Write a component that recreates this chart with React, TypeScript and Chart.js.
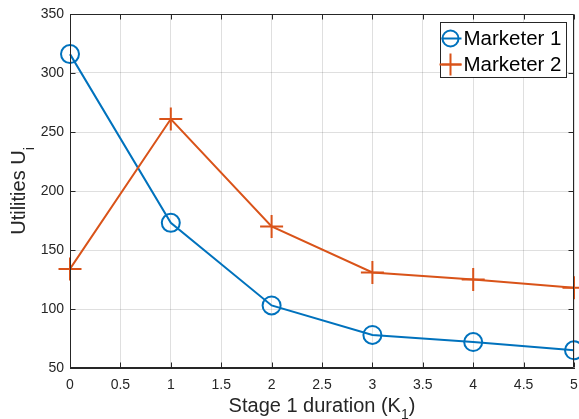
import { useEffect, useRef } from "react";
import { Chart, registerables } from "chart.js";

Chart.register(...registerables);

const stageDurations = [0, 1, 2, 3, 4, 5];
const marketer1 = [316, 173, 103, 78, 72, 65];
const marketer2 = [134, 261, 170, 131, 125, 118];
const seriesLabels = ["Marketer 1", "Marketer 2"];
const xTickValues = [0, 0.5, 1, 1.5, 2, 2.5, 3, 3.5, 4, 4.5, 5];
const yTickValues = [50, 100, 150, 200, 250, 300, 350];
const xTitleParts = ["Stage 1 duration (K", "1", ")"];
const yTitleParts = ["Utilities U", "i", ""];

const BLUE = "#0072BD";
const ORANGE = "#D95319";
const AXIS = "#262626";
const GRID = "rgba(38,38,38,0.15)";
const FAMILY = "'Liberation Sans', Arial, Helvetica, sans-serif";

function drawSubTitle(ctx: CanvasRenderingContext2D, parts: string[], size: number, subSize: number, subOffset: number) {
  ctx.font = `${size}px ${FAMILY}`;
  const w0 = ctx.measureText(parts[0]).width;
  const w2 = ctx.measureText(parts[2]).width;
  ctx.font = `${subSize}px ${FAMILY}`;
  const w1 = ctx.measureText(parts[1]).width;
  const total = w0 + w1 + w2;
  let x = -total / 2;
  ctx.textAlign = "left";
  ctx.textBaseline = "alphabetic";
  ctx.font = `${size}px ${FAMILY}`;
  ctx.fillText(parts[0], x, 0);
  x += w0;
  ctx.font = `${subSize}px ${FAMILY}`;
  ctx.fillText(parts[1], x, subOffset);
  x += w1;
  ctx.font = `${size}px ${FAMILY}`;
  if (parts[2]) ctx.fillText(parts[2], x, 0);
}

const framePlugin = {
  id: "matlabFrame",
  afterDraw(chart: any) {
    const { ctx, chartArea: a, scales } = chart;
    const L = Math.round(a.left) + 0.5;
    const R = Math.round(a.right) - 0.5;
    const T = Math.round(a.top) + 0.5;
    const B = Math.round(a.bottom) - 0.5;
    ctx.save();
    ctx.strokeStyle = AXIS;
    ctx.lineWidth = 1;
    ctx.beginPath();
    ctx.moveTo(L, T);
    ctx.lineTo(R, T);
    ctx.lineTo(R, B);
    ctx.lineTo(L, B);
    ctx.closePath();
    ctx.stroke();
    const tl = 5;
    ctx.beginPath();
    for (const v of xTickValues) {
      const px = Math.round(scales.x.getPixelForValue(v)) + 0.5;
      ctx.moveTo(px, B);
      ctx.lineTo(px, B - tl);
      ctx.moveTo(px, T);
      ctx.lineTo(px, T + tl);
    }
    for (const v of yTickValues) {
      const py = Math.round(scales.y.getPixelForValue(v)) + 0.5;
      ctx.moveTo(L, py);
      ctx.lineTo(L + tl, py);
      ctx.moveTo(R, py);
      ctx.lineTo(R - tl, py);
    }
    ctx.stroke();

    // axis titles
    ctx.fillStyle = AXIS;
    ctx.save();
    ctx.translate((a.left + a.right) / 2, 412);
    drawSubTitle(ctx, xTitleParts, 20, 14, 7);
    ctx.restore();
    ctx.save();
    ctx.translate(25, (a.top + a.bottom) / 2);
    ctx.rotate(-Math.PI / 2);
    drawSubTitle(ctx, yTitleParts, 20, 14, 9);
    ctx.restore();

    // legend
    const bx = Math.round(a.right) - 134 + 0.5;
    const by = Math.round(a.top) + 8 + 0.5;
    const bw = 126;
    const bh = 55;
    ctx.fillStyle = "#ffffff";
    ctx.fillRect(bx, by, bw, bh);
    ctx.strokeStyle = AXIS;
    ctx.lineWidth = 1;
    ctx.strokeRect(bx, by, bw, bh);
    const colors = [BLUE, ORANGE];
    const rows = [by + 16, by + 42];
    for (let i = 0; i < 2; i++) {
      const cy = rows[i];
      const cx = bx + 10;
      ctx.strokeStyle = colors[i];
      ctx.lineWidth = 2;
      ctx.beginPath();
      ctx.moveTo(bx + 1, cy);
      ctx.lineTo(bx + 21, cy);
      ctx.stroke();
      ctx.beginPath();
      if (i === 0) {
        ctx.arc(cx, cy, 8, 0, Math.PI * 2);
      } else {
        ctx.moveTo(cx - 11, cy);
        ctx.lineTo(cx + 11, cy);
        ctx.moveTo(cx, cy - 11);
        ctx.lineTo(cx, cy + 11);
      }
      ctx.stroke();
      ctx.fillStyle = "#000000";
      ctx.font = `20.5px ${FAMILY}`;
      ctx.textAlign = "left";
      ctx.textBaseline = "middle";
      ctx.fillText(seriesLabels[i], bx + 23, cy + 1);
    }
    ctx.restore();
  },
};

export default function App() {
  const canvasRef = useRef<HTMLCanvasElement | null>(null);

  useEffect(() => {
    const canvas = canvasRef.current;
    if (!canvas) return;
    const chart = new Chart(canvas, {
      type: "line",
      data: {
        datasets: [
          {
            label: seriesLabels[0],
            data: stageDurations.map((x, i) => ({ x, y: marketer1[i] })),
            borderColor: BLUE,
            borderWidth: 2,
            pointStyle: "circle",
            pointRadius: 9,
            pointBorderWidth: 2,
            pointBorderColor: BLUE,
            pointBackgroundColor: "rgba(0,0,0,0)",
            tension: 0,
            clip: false as any,
            order: 2,
          },
          {
            label: seriesLabels[1],
            data: stageDurations.map((x, i) => ({ x, y: marketer2[i] })),
            borderColor: ORANGE,
            borderWidth: 2,
            pointStyle: "cross",
            pointRadius: 11.5,
            pointBorderWidth: 2,
            pointBorderColor: ORANGE,
            pointBackgroundColor: "rgba(0,0,0,0)",
            tension: 0,
            clip: false as any,
            order: 1,
          },
        ],
      },
      options: {
        animation: false,
        responsive: false,
        maintainAspectRatio: false,
        events: [],
        layout: { autoPadding: false, padding: { left: 0, top: 14, right: 5, bottom: 0 } },
        plugins: { legend: { display: false }, tooltip: { enabled: false } },
        scales: {
          x: {
            type: "linear",
            min: 0,
            max: 5,
            afterBuildTicks: (s: any) => {
              s.ticks = xTickValues.map((v) => ({ value: v }));
            },
            afterFit: (s: any) => {
              s.height = 51;
              s.paddingLeft = 0;
              s.paddingRight = 0;
            },
            grid: { color: GRID, drawTicks: false, lineWidth: 1 },
            border: { color: AXIS, width: 1 },
            ticks: {
              color: AXIS,
              font: { family: FAMILY, size: 14 },
              padding: 9,
              maxRotation: 0,
              autoSkip: false,
              callback: (v: any) => String(v),
            },
          },
          y: {
            type: "linear",
            min: 50,
            max: 350,
            afterBuildTicks: (s: any) => {
              s.ticks = yTickValues.map((v) => ({ value: v }));
            },
            afterFit: (s: any) => {
              s.width = 70;
              s.paddingTop = 0;
              s.paddingBottom = 0;
            },
            grid: { color: GRID, drawTicks: false, lineWidth: 1 },
            border: { color: AXIS, width: 1 },
            ticks: {
              color: AXIS,
              font: { family: FAMILY, size: 14 },
              padding: 6,
              autoSkip: false,
              callback: (v: any) => String(v),
            },
          },
        },
      },
      plugins: [framePlugin],
    });
    return () => chart.destroy();
  }, []);

  return (
    <div style={{ position: "fixed", left: 0, top: 0, width: 579, height: 419, background: "#ffffff" }}>
      <canvas ref={canvasRef} width={579} height={419} style={{ display: "block", width: 579, height: 419 }} />
    </div>
  );
}
